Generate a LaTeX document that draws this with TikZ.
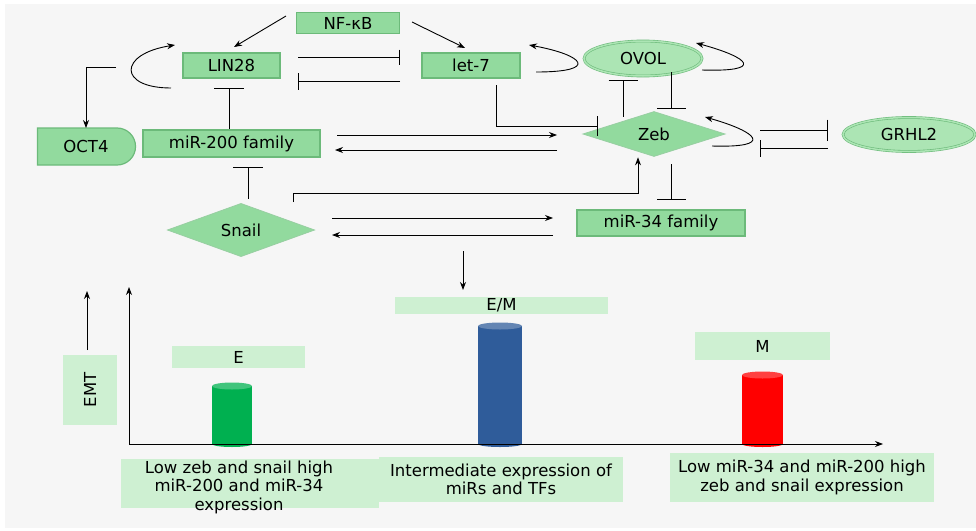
\documentclass[tikz,border=0pt]{standalone}
\usepackage{fontspec}
\setmainfont{DejaVu Sans}
\usepackage{xcolor}
\definecolor{boxgreen}{RGB}{146,218,158}
\definecolor{boxedge}{RGB}{108,186,122}
\definecolor{ovalgreen}{RGB}{172,229,180}
\definecolor{lightgreen}{RGB}{206,240,210}
\definecolor{bggray}{RGB}{246,246,246}
\definecolor{cylgreen}{RGB}{0,176,80}
\definecolor{cylblue}{RGB}{47,92,154}
\definecolor{cylred}{RGB}{255,0,0}
\usepackage{tikz}
\usetikzlibrary{shapes.geometric}
\usetikzlibrary{shapes.misc}
\usetikzlibrary{positioning}
\usetikzlibrary{arrows.meta}

\begin{document}
\begin{tikzpicture}[x=1pt,y=-1pt,line width=0.9pt,
every node/.style={font=\fontsize{16.5}{18.5}\selectfont,inner sep=0pt,outer sep=0pt,align=center},
gbox/.style={rectangle,draw=boxedge,fill=boxgreen,line width=1.2pt},
goval/.style={ellipse,draw=boxedge,fill=ovalgreen,double=ovalgreen,double distance=1.5pt,line width=0.6pt},
gdiam/.style={diamond,draw=boxedge!70!white,fill=boxgreen,line width=0.8pt},
lbox/.style={rectangle,fill=lightgreen},
act/.style={-{Stealth[length=8pt,width=6pt]}},
inh/.style={-{Bar[width=#1]}},inh/.default=17pt]
\useasboundingbox (0,0) rectangle (976,530);
\fill[white] (0,0) rectangle (976,530);
\fill[bggray] (5,4) rectangle (976,528);

% network
\node[gbox,minimum width=103,minimum height=21] (nfkb) at (348,23) {NF-κB};
\node[gbox,minimum width=97,minimum height=25] (lin28) at (231.5,65.5) {LIN28};
\node[gbox,minimum width=98,minimum height=25] (let7) at (471,65.5) {let-7};
\node[goval,minimum width=118,minimum height=35] (ovol) at (643,58.5) {OVOL};
\node[rounded rectangle,rounded rectangle left arc=none,draw=boxedge,fill=boxgreen,line width=1.2pt,minimum width=98,minimum height=37] (oct4) at (86,146.5) {OCT4};
\node[gbox,minimum width=177,minimum height=27] (mir200) at (231.5,143.5) {miR-200 family};
\node[gdiam,minimum width=142,minimum height=34] (zeb) at (654,134) {Zeb};
\node[goval,minimum width=132,minimum height=34] (grhl2) at (909,134.5) {GRHL2};
\node[gdiam,minimum width=147,minimum height=35] (snail) at (241,230) {Snail};
\node[gbox,minimum width=168,minimum height=26] (mir34) at (661,223) {miR-34 family};

\draw[act] ([shift={(-10.5,-7)}]nfkb.west) -- ([shift={(2.5,-6)}]lin28.north);
\draw[act] ([shift={(12.5,-1)}]nfkb.east) -- ([shift={(-6,-5)}]let7.north);
\draw[act] ([shift={(-12,22.5)}]lin28.west) .. controls +(-53,0) and +(-57,9) .. ([shift={(-8,-20.5)}]lin28.west);
\draw[act] ([shift={(16,6.5)}]let7.east) .. controls +(64,0) and +(55,10) .. ([shift={(9,-20.5)}]let7.east);
\draw[act] ([shift={(0,11.5)}]ovol.east) .. controls +(62,2) and +(55,15) .. ([shift={(-6,-15.5)}]ovol.east);
\draw[act] ([shift={(-13,12)}]zeb.east) .. controls +(63,2) and +(53,15) .. ([shift={(-20,-17)}]zeb.east);
\draw[inh=15pt] ([shift={(18,-8.5)}]lin28.east) -- ([shift={(-22,-8.5)}]let7.west);
\draw[inh=17pt] ([shift={(-22,15.5)}]let7.west) -- ([shift={(18,15.5)}]lin28.east);
\draw[act] ([shift={(-67,1.5)}]lin28.west) -| (oct4.north);
\draw[inh=30pt] ([shift={(-2.5,-1)}]mir200.north) -- ([shift={(-2.5,10)}]lin28.south);
\draw[inh=30pt] ([shift={(7,-5)}]snail.north) -- ([shift={(16.5,10)}]mir200.south);
\draw[act] ([shift={(17,-8.5)}]mir200.east) -- ([shift={(-26,1)}]zeb.west);
\draw[act] ([shift={(-26,16)}]zeb.west) -- ([shift={(15,6.5)}]mir200.east);
\draw[act] ([shift={(52,-1.5)}]snail.north) |- ([shift={(-16,37)}]zeb.south) -- ([shift={(-16,1)}]zeb.south);
\draw[act] ([shift={(17.5,-12)}]snail.east) -- ([shift={(-24,-5)}]mir34.west);
\draw[act] ([shift={(-24,12)}]mir34.west) -- ([shift={(17.5,5)}]snail.east);
\draw[inh=20pt] ([shift={(25,7)}]let7.south) |- ([shift={(15,-8)}]zeb.west);
\draw[inh=29pt] ([shift={(-31,5)}]zeb.north) -- ([shift={(-20,4)}]ovol.south);
\draw[inh=29pt] ([shift={(28,-4)}]ovol.south) -- ([shift={(17,-3)}]zeb.north);
\draw[inh=29pt] ([shift={(17,8)}]zeb.south) -- ([shift={(10,-10)}]mir34.north);
\draw[inh=21pt] ([shift={(35,-4)}]zeb.east) -- ([shift={(-15,-4.5)}]grhl2.west);
\draw[inh=17pt] ([shift={(-15,13.5)}]grhl2.west) -- ([shift={(35,14)}]zeb.east);

% chart
\node[lbox,minimum width=133,minimum height=22] (e) at (238.5,357) {E};
\node[lbox,minimum width=213,minimum height=17] (em) at (501.5,305.5) {E/M};
\node[lbox,minimum width=135,minimum height=28] (m) at (762.5,346) {M};
\node[lbox,minimum width=54,minimum height=70] (emt) at (90,390) {};
\node[rotate=90] (emttxt) at (emt) {EMT};
\node[lbox,minimum width=258,minimum height=49] (lowbox) at (250,483.5) {};
\node (lowtxt) at (239,487) {Low zeb and snail high\\miR-200 and miR-34\\expression};
\node[lbox,minimum width=244,minimum height=45] (midbox) at (501,479.5) {Intermediate expression of\\miRs and TFs};
\node[lbox,minimum width=264,minimum height=49] (highbox) at (802,477.5) {Low miR-34 and miR-200 high\\zeb and snail expression};

\coordinate (drop) at (463,251);
\draw[act,shorten >=7pt] (drop) -- (drop |- em.north);
\coordinate (emttip) at (87,291);
\draw[act] ([shift={(-3,-5)}]emt.north) -- (emttip);

% cylinders
\fill[cylgreen] (212,386) rectangle (252,444);
\fill[cylgreen] (232,444) ellipse (20 and 3);
\fill[cylgreen!75!white] (232,386) ellipse (20 and 3.5);
\fill[cylblue] (478,326) rectangle (522,444);
\fill[cylblue] (500,444) ellipse (22 and 3);
\fill[cylblue!75!white] (500,326) ellipse (22 and 3.5);
\fill[cylred] (742,375) rectangle (783,444);
\fill[cylred] (762.5,444) ellipse (20.5 and 3);
\fill[cylred!75!white] (762.5,375) ellipse (20.5 and 3.5);

\coordinate (orig) at (129,444);
\coordinate (ytip) at (129,287);
\coordinate (xtip) at (883,444);
\draw[act] (orig) -- (ytip);
\draw[act] (orig) -- (xtip);
\end{tikzpicture}
\end{document}
